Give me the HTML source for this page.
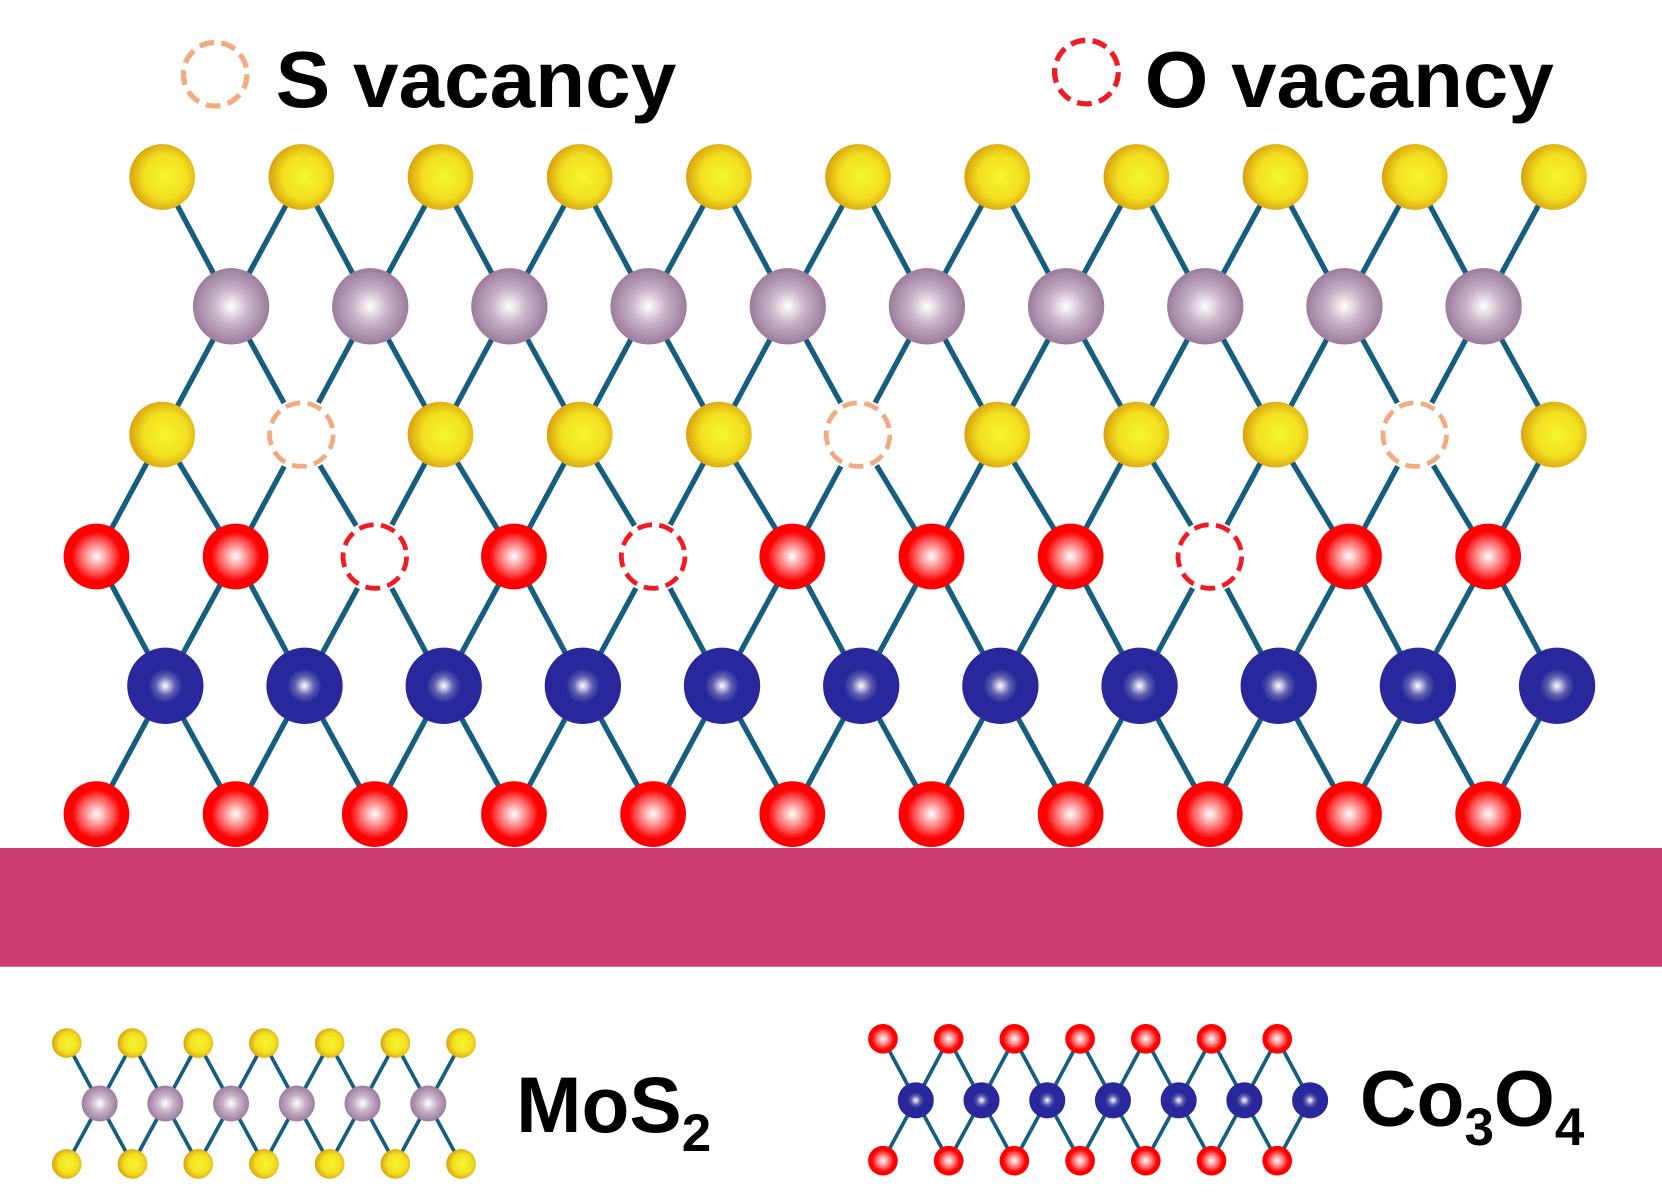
<!DOCTYPE html>
<html><head><meta charset="utf-8"><style>
html,body{margin:0;padding:0;background:#fff;width:1662px;height:1201px;overflow:hidden}
svg{display:block}
text{font-family:"Liberation Sans",Arial,sans-serif;font-weight:bold;fill:#000}
</style></head><body>
<svg id="s" width="1662" height="1201" viewBox="0 0 1568 1133" preserveAspectRatio="none" xmlns="http://www.w3.org/2000/svg">
<defs>
<radialGradient id="gS" cx="0.55" cy="0.5" r="0.55"><stop offset="0" stop-color="#f8f530"/><stop offset="0.6" stop-color="#f2e020"/><stop offset="1" stop-color="#d9a010"/></radialGradient>
<radialGradient id="gMo" cx="0.5" cy="0.5" r="0.5"><stop offset="0" stop-color="#ffffff"/><stop offset="0.45" stop-color="#c8b4c8"/><stop offset="1" stop-color="#9c7c9c"/></radialGradient>
<radialGradient id="gO" cx="0.5" cy="0.5" r="0.5"><stop offset="0" stop-color="#ffffff"/><stop offset="0.5" stop-color="#ff5a5a"/><stop offset="0.75" stop-color="#ff0000"/><stop offset="1" stop-color="#ff0000"/></radialGradient>
<radialGradient id="gCo" cx="0.5" cy="0.5" r="0.5"><stop offset="0" stop-color="#ffffff"/><stop offset="0.25" stop-color="#6060b0"/><stop offset="0.45" stop-color="#28289c"/><stop offset="1" stop-color="#28289c"/></radialGradient>
</defs>
<g id="bonds" stroke="#155e80" stroke-width="5"></g>
<g id="atoms"></g>
<rect x="0" y="800" width="1568" height="112" fill="#cc3c70"/>
<circle cx="203" cy="70" r="30" fill="none" stroke="#f2aa80" stroke-width="5" stroke-dasharray="14 7"/>
<text x="260" y="101" font-size="75" textLength="378" lengthAdjust="spacingAndGlyphs">S vacancy</text>
<circle cx="1025" cy="68" r="30" fill="none" stroke="#ee1c24" stroke-width="5" stroke-dasharray="14 7"/>
<text x="1080" y="101" font-size="75" textLength="386" lengthAdjust="spacingAndGlyphs">O vacancy</text>
<text x="487" y="1068" font-size="74">MoS<tspan font-size="50" dy="18">2</tspan></text>
<text x="1283" y="1062" font-size="74">Co<tspan font-size="50" dy="18">3</tspan><tspan dy="-18">O</tspan><tspan font-size="50" dy="18">4</tspan></text>
</svg>
<script>
var NS="http://www.w3.org/2000/svg",B=document.getElementById('bonds'),A=document.getElementById('atoms');
function el(p,t,a){var e=document.createElementNS(NS,t);for(var k in a)e.setAttribute(k,a[k]);p.appendChild(e);return e;}
function line(a,b,w){el(B,'line',{x1:a[0],y1:a[1],x2:b[0],y2:b[1],'stroke-width':w||5});}
var sp=131.3;
var Stop=[],Mo=[],Sbot=[],O1=[],Co=[],O2=[];
for(var i=0;i<11;i++){Stop.push([153+i*sp,167]);Sbot.push([153+i*sp,410]);O1.push([91+i*sp,525]);Co.push([156+i*sp,647]);O2.push([91+i*sp,768]);}
for(var i=0;i<10;i++)Mo.push([218+i*sp,289]);
function connect(U,L,w){U.forEach(function(u){L.forEach(function(l){if(Math.abs(u[0]-l[0])<75)line(u,l,w);});});}
connect(Stop,Mo);connect(Mo,Sbot);connect(Sbot,O1);connect(O1,Co);connect(Co,O2);
var sVac=[1,5,9],oVac=[2,4,8];
function ball(p,g,r){el(A,'circle',{cx:p[0],cy:p[1],r:r,fill:'url(#'+g+')'});}
function vac(p,c){el(A,'circle',{cx:p[0],cy:p[1],r:34,fill:'#fff'});el(A,'circle',{cx:p[0],cy:p[1],r:30,fill:'none',stroke:c,'stroke-width':4.5,'stroke-dasharray':'14 7'});}
Stop.forEach(function(p){ball(p,'gS',31)});
Mo.forEach(function(p){ball(p,'gMo',36)});
Sbot.forEach(function(p,i){if(sVac.indexOf(i)>=0)vac(p,'#f2aa80');else ball(p,'gS',31)});
O1.forEach(function(p,i){if(oVac.indexOf(i)>=0)vac(p,'#ee1c24');else ball(p,'gO',31)});
Co.forEach(function(p){ball(p,'gCo',36)});
O2.forEach(function(p){ball(p,'gO',31)});
var a=[],b=[],c=[];
for(var i=0;i<7;i++){a.push([63+i*62,984]);c.push([63+i*62,1098]);}
for(var i=0;i<6;i++)b.push([94+i*62,1041]);
function conn2(U,L){U.forEach(function(u){L.forEach(function(l){if(Math.abs(u[0]-l[0])<40)line(u,l,3.5);});});}
conn2(a,b);conn2(b,c);
a.forEach(function(p){ball(p,'gS',14)});b.forEach(function(p){ball(p,'gMo',17)});c.forEach(function(p){ball(p,'gS',14)});
var d=[],e=[],f=[];
for(var i=0;i<7;i++){d.push([833+i*62,980]);f.push([833+i*62,1095]);e.push([864+i*62,1038]);}
conn2(d,e);conn2(e,f);
d.forEach(function(p){ball(p,'gO',14)});e.forEach(function(p){ball(p,'gCo',17)});f.forEach(function(p){ball(p,'gO',14)});
</script>
</body></html>
